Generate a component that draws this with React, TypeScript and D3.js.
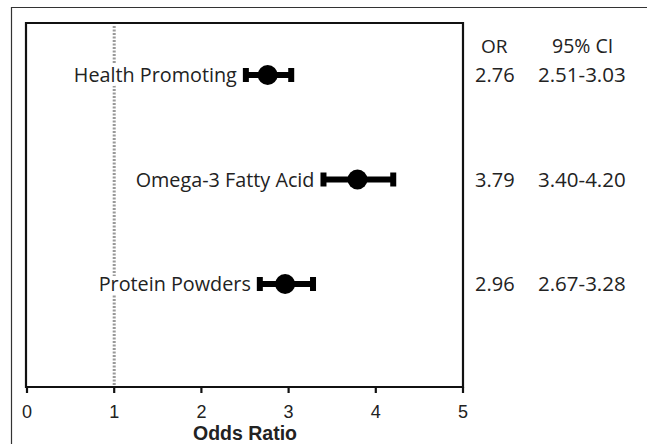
import React from "react";
import * as d3 from "d3";

const categories = ["Health Promoting", "Omega-3 Fatty Acid", "Protein Powders"];
const oddsRatio = [2.76, 3.79, 2.96];
const ciLow = [2.51, 3.4, 2.67];
const ciHigh = [3.03, 4.2, 3.28];
const orLabels = ["2.76", "3.79", "2.96"];
const ciLabels = ["2.51-3.03", "3.40-4.20", "2.67-3.28"];
const xTicks = [0, 1, 2, 3, 4, 5];

const W = 647;
const H = 444;
const FONT = "'Open Sans', 'Liberation Sans', Arial, sans-serif";
const AXIS_FONT = "'Liberation Sans', Arial, sans-serif";

export default function App() {
  const x = d3.scaleLinear().domain([0, 5]).range([27, 463]);
  const y = d3.scalePoint<string>().domain(categories).range([75, 284]);
  const left = 26;
  const top = 23;
  const bottom = 387;
  const right = 463;

  return (
    <svg
      width={W}
      height={H}
      style={{ position: "absolute", left: 0, top: 0, background: "#fff" }}
      fontFamily={FONT}
    >
      <rect x={0} y={0} width={W} height={H} fill="#fff" />
      {/* outer frame */}
      <path d={`M11.5,${H} V7.5 H${W}`} fill="none" stroke="#333" strokeWidth={1.2} />
      {/* reference line at OR = 1 */}
      <line
        x1={x(1)}
        x2={x(1)}
        y1={top + 3}
        y2={bottom - 2}
        stroke="#999"
        strokeWidth={3}
        strokeDasharray="2,1.5"
      />
      {/* inner plot box */}
      <path
        d={`M${left},${bottom} V${top} H${right} V${bottom} Z`}
        fill="none"
        stroke="#111"
        strokeWidth={2.2}
      />
      {/* ticks */}
      {xTicks.map((t) => (
        <g key={t}>
          <line x1={x(t)} x2={x(t)} y1={bottom} y2={bottom + 6} stroke="#111" strokeWidth={2.2} />
          <text
            x={x(t)}
            y={bottom + 31}
            textAnchor="middle"
            fontSize={18}
            fontFamily={AXIS_FONT}
            fill="#222"
          >
            {t}
          </text>
        </g>
      ))}
      <text
        x={(x(0) + x(5)) / 2}
        y={bottom + 53}
        textAnchor="middle"
        fontSize={19.5}
        fontFamily={AXIS_FONT}
        fontWeight="bold"
        fill="#222"
      >
        Odds Ratio
      </text>
      {/* rows */}
      {categories.map((c, i) => {
        const cy = y(c) as number;
        const lo = x(ciLow[i]);
        const hi = x(ciHigh[i]);
        const labelX = lo - 9;
        return (
          <g key={c}>
            <text
              x={labelX}
              y={cy + 7}
              textAnchor="end"
              fontSize={19.8}
              fill="#222"
              stroke="#fff"
              strokeWidth={8}
              paintOrder="stroke"
              strokeLinejoin="round"
            >
              {c}
            </text>
            <line x1={lo} x2={hi} y1={cy} y2={cy} stroke="#000" strokeWidth={6} />
            <rect x={lo - 3} y={cy - 7} width={6} height={14} fill="#000" />
            <rect x={hi - 3} y={cy - 7} width={6} height={14} fill="#000" />
            <circle cx={x(oddsRatio[i])} cy={cy} r={10} fill="#000" />
            <text x={475} y={cy + 7} fontSize={20} fill="#222">
              {orLabels[i]}
            </text>
            <text x={538} y={cy + 7} fontSize={20.5} fill="#222">
              {ciLabels[i]}
            </text>
          </g>
        );
      })}
      <text x={481} y={53} fontSize={19} fill="#222">
        OR
      </text>
      <text x={552} y={53} fontSize={19.5} fill="#222">
        95% CI
      </text>
    </svg>
  );
}
